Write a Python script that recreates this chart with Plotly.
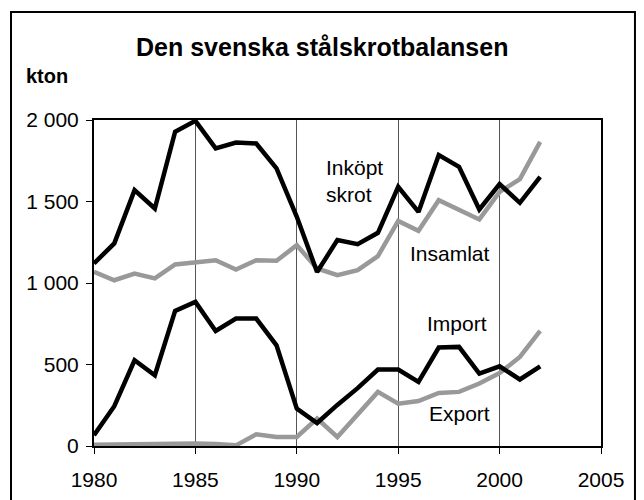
import plotly.graph_objects as go

years = list(range(1980, 2003))
inkopt_skrot = [1120, 1243, 1570, 1457, 1928, 1995, 1826, 1862, 1856, 1703, 1406, 1068,
                1263, 1238, 1308, 1590, 1436, 1785, 1713, 1451, 1607, 1492, 1651]
insamlat = [1068, 1017, 1058, 1028, 1114, 1126, 1140, 1083, 1140, 1136, 1232, 1089,
            1048, 1079, 1165, 1381, 1320, 1508, 1447, 1390, 1559, 1637, 1866]
import_ = [66, 244, 526, 434, 829, 884, 706, 782, 782, 618, 229, 141,
           252, 355, 469, 469, 393, 604, 608, 444, 489, 408, 489]
export = [8, 10, 11, 13, 15, 16, 13, 4, 72, 55, 55, 168,
          55, 195, 332, 260, 276, 325, 332, 383, 448, 546, 706]

x_ticks = [1980, 1985, 1990, 1995, 2000, 2005]
y_ticks = [0, 500, 1000, 1500, 2000]
y_tick_labels = ["0", "500", "1 000", "1 500", "2 000"]

FONT = "Liberation Sans, Arial, sans-serif"
BLACK = "#000000"
GRAY = "#999999"

fig = go.Figure()
fig.add_trace(go.Scatter(x=years, y=insamlat, mode="lines", line=dict(color=GRAY, width=4.5), name="Insamlat"))
fig.add_trace(go.Scatter(x=years, y=export, mode="lines", line=dict(color=GRAY, width=4.5), name="Export"))
fig.add_trace(go.Scatter(x=years, y=inkopt_skrot, mode="lines", line=dict(color=BLACK, width=4.5), name="Inköpt skrot"))
fig.add_trace(go.Scatter(x=years, y=import_, mode="lines", line=dict(color=BLACK, width=4.5), name="Import"))

fig.update_layout(
    width=636, height=492,
    margin=dict(l=86, r=43, t=112, b=54, pad=0, autoexpand=False),
    paper_bgcolor="white", plot_bgcolor="white",
    showlegend=False,
    font=dict(family=FONT, size=21, color="black"),
    xaxis=dict(range=[1980, 2005], tickvals=x_ticks, ticks="outside", ticklen=6,
               tickcolor="black", tickwidth=1, showline=True, linecolor="black", linewidth=2,
               mirror=True, showgrid=True, gridcolor="#555555", gridwidth=1, zeroline=False,
               tickfont=dict(size=21), ticklabelstandoff=8),
    yaxis=dict(range=[0, 2000], tickvals=y_ticks, ticktext=y_tick_labels, ticks="outside",
               ticklen=6, tickcolor="black", tickwidth=1, showline=True, linecolor="black",
               linewidth=2, mirror=True, showgrid=False, zeroline=False, tickfont=dict(size=21),
               ticklabelstandoff=3),
)

annotations = [
    dict(text="Inköpt<br>skrot", x=1991.33, y=1625, xanchor="left", yanchor="middle", align="left"),
    dict(text="Insamlat", x=1997.55, y=1183, xanchor="center", yanchor="middle"),
    dict(text="Import", x=1997.92, y=753, xanchor="center", yanchor="middle"),
    dict(text="Export", x=1998.04, y=201, xanchor="center", yanchor="middle"),
]
for a in annotations:
    fig.add_annotation(xref="x", yref="y", showarrow=False, font=dict(size=21, family=FONT), **a)

fig.add_annotation(text="<b>Den svenska stålskrotbalansen</b>", xref="paper", yref="paper",
                   x=0.45, y=1.224, xanchor="center", yanchor="middle", showarrow=False,
                   font=dict(size=25, family=FONT))
fig.add_annotation(text="<b>kton</b>", xref="paper", yref="paper",
                   x=-0.138, y=1.135, xanchor="left", yanchor="middle", showarrow=False,
                   font=dict(size=20, family=FONT))

fig.add_shape(type="rect", xref="paper", yref="paper", x0=-0.1637, x1=1.067, y0=-0.19, y1=1.3316,
              line=dict(color="black", width=2), fillcolor="rgba(0,0,0,0)", layer="below")

fig.write_html("out.html")
